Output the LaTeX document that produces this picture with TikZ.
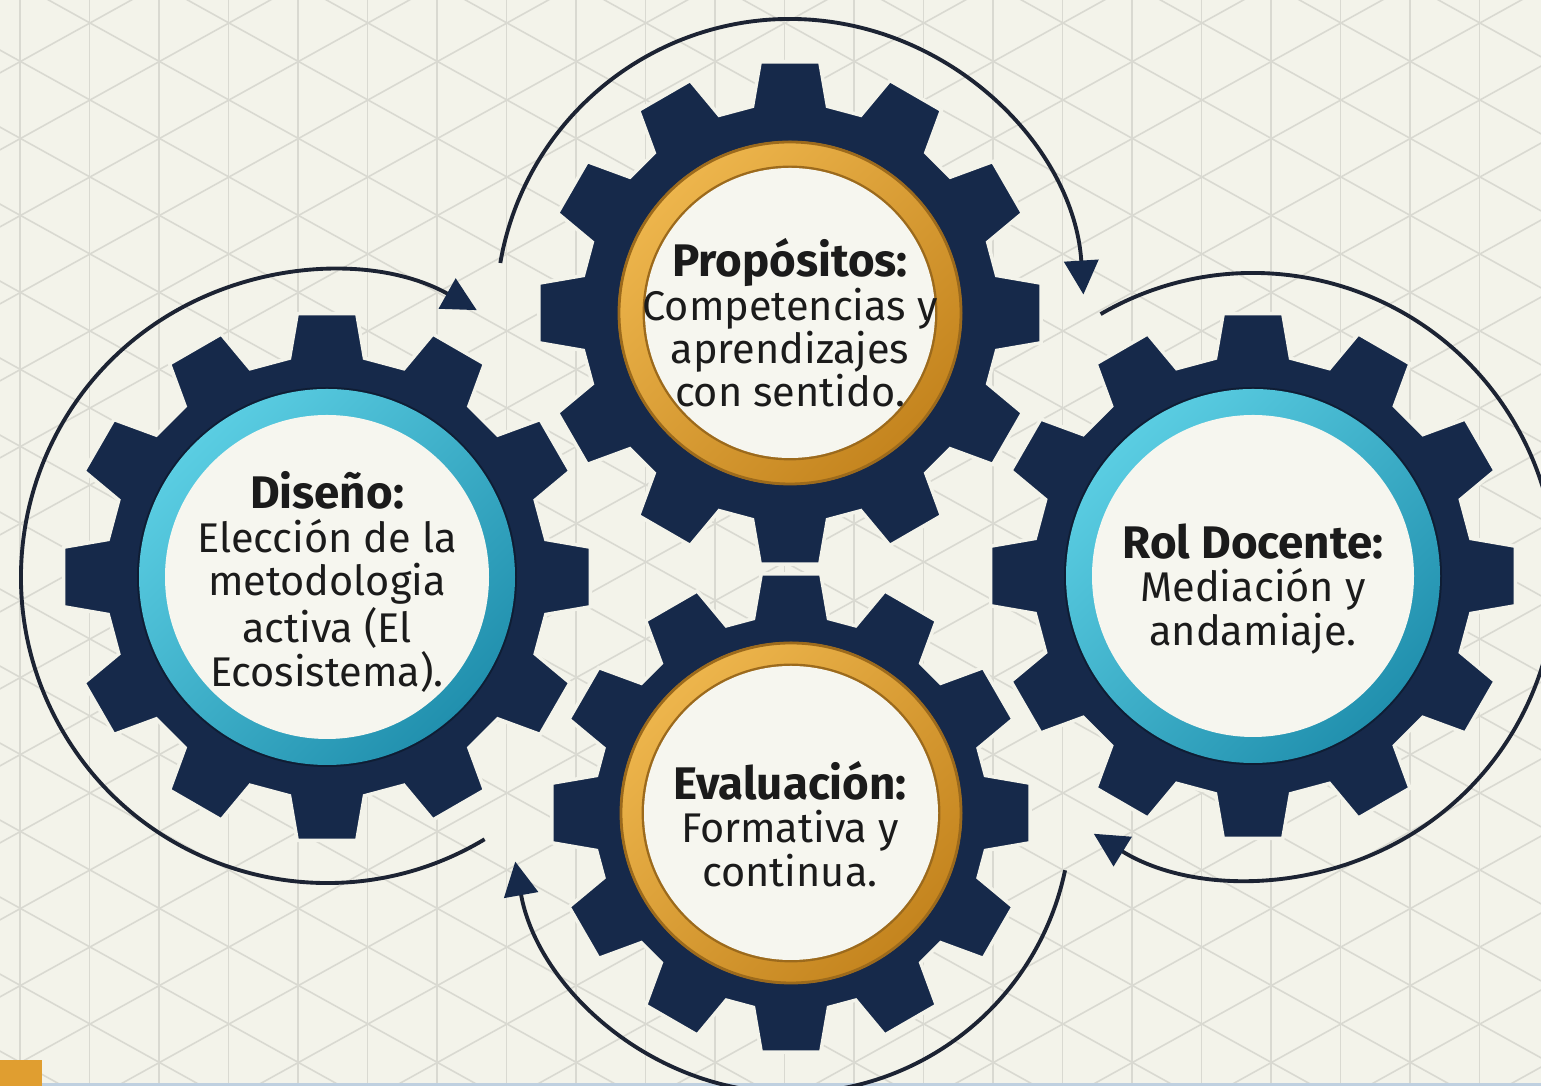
\documentclass[tikz,border=0pt]{standalone}
\usepackage{fontspec}
\setmainfont{Fira Sans}
\usetikzlibrary{arrows.meta}

\definecolor{paper}{HTML}{F3F3EA}
\definecolor{gridc}{HTML}{D9D9D1}
\definecolor{navy}{HTML}{16294A}
\definecolor{tealL}{HTML}{5ACDE2}
\definecolor{tealD}{HTML}{2190AE}
\definecolor{goldL}{HTML}{EDB54C}
\definecolor{goldD}{HTML}{C4841E}
\definecolor{goldE}{HTML}{9C6A1C}
\definecolor{disc}{HTML}{F6F6EF}
\definecolor{ink}{HTML}{1B1B1B}
\definecolor{arcline}{HTML}{1C2333}
\definecolor{orangec}{HTML}{E09E30}
\definecolor{bluebar}{HTML}{BFD0E0}

% gear with 12 teeth: #1 centre, #2 tip radius
\newcommand{\gearbody}[2]{%
  \pgfmathsetmacro\tipang{atan(0.30/#2)}%
  \pgfmathsetmacro\rootang{asin(0.375/(#2-0.43))}%
  \pgfmathsetmacro\rootrad{#2-0.43}%
  \begin{scope}[shift={(#1)}]
    \filldraw[gear] (90-\rootang:\rootrad)
      \foreach \k in {0,...,11} {
        -- (\k*30+90-\rootang:\rootrad) -- (\k*30+90-\tipang:#2)
        -- (\k*30+90+\tipang:#2) -- (\k*30+90+\rootang:\rootrad)
      } -- cycle;
  \end{scope}}
% teal ring: #1 centre, #2 outer radius, #3 inner radius
\newcommand{\tealring}[3]{%
  \fill[navy!70!black] (#1) circle (#2+0.02);
  \shade[top color=tealL, bottom color=tealD, shading angle=45] (#1) circle (#2);
  \fill[disc] (#1) circle (#3);}
% gold ring: #1 centre, #2 outer radius, #3 inner radius
\newcommand{\goldring}[3]{%
  \shade[top color=goldL, bottom color=goldD, shading angle=45] (#1) circle (#2);
  \draw[goldE, line width=0.8pt] (#1) circle (#2-0.01);
  \draw[goldE, line width=0.8pt] (#1) circle (#3+0.01);
  \fill[disc] (#1) circle (#3);}
% title line of a label
\newcommand{\gtitle}[1]{{\fontsize{13}{12.3}\selectfont\bfseries #1}}

\begin{document}
\begin{tikzpicture}[
    gridline/.style={gridc, line width=0.45pt},
    gear/.style={fill=navy, draw=paper, line width=1pt, line join=miter},
    gtext/.style={align=center, text=ink, inner sep=0pt,
      font=\fontsize{11.8}{12.3}\selectfont},
    flow/.style={draw=arcline, line width=1.1pt,
      -{Triangle[length=3.4mm, width=3.4mm, color=navy]}}
  ]
  \useasboundingbox (0,0) rectangle (15.41,10.86);
  \clip (0,0) rectangle (15.41,10.86);
  \fill[paper] (0,0) rectangle (15.41,10.86);

  % isometric grid
  \foreach \k in {0,...,21}
    \draw[gridline] (0.20+0.695*\k,0) -- (0.20+0.695*\k,10.86);
  \foreach \m in {-12,...,26} {
    \draw[gridline] (-0.5,10.63-0.77*\m+0.554*1.4) -- (16,10.63-0.77*\m-0.554*15.1);
    \draw[gridline] (-0.5,10.63-0.77*\m-0.554*1.4) -- (16,10.63-0.77*\m+0.554*15.1);
  }

  % bottom strip
  \fill[bluebar] (0,0) rectangle (15.41,0.03);
  \fill[orangec] (0,0) rectangle (0.42,0.26);

  % gear centres
  \coordinate (gL) at (3.27,5.09);
  \coordinate (gT) at (7.90,7.73);
  \coordinate (gR) at (12.53,5.10);
  \coordinate (gB) at (7.91,2.73);

  % gears
  \gearbody{gL}{2.65} \tealring{gL}{1.88}{1.62}
  \gearbody{gR}{2.64} \tealring{gR}{1.87}{1.61}
  \gearbody{gT}{2.53} \goldring{gT}{1.72}{1.45}
  \gearbody{gB}{2.41} \goldring{gB}{1.71}{1.47}

  % labels
  \node[gtext] (txL) at (3.27,5.04) {\gtitle{Diseño:}\\Elección de la\\metodologia\\activa (El\\Ecosistema).};
  \node[gtext] (txT) at (7.90,7.63) {\gtitle{Propósitos:}\\Competencias y\\aprendizajes\\con sentido.};
  \node[gtext] (txR) at (12.53,4.97) {\gtitle{Rol Docente:}\\Mediación y\\andamiaje.};
  \node[gtext] (txB) at (7.90,2.62) {\gtitle{Evaluación:}\\Formativa y\\continua.};

  % arrow starts
  \path (gL) ++(-59:3.06) coordinate (aL);
  \path (gT) ++(170.2:2.94) coordinate (aT);
  \path (gR) ++(120.2:3.03) coordinate (aR);
  \path (gB) ++(-11.8:2.80) coordinate (aB);

  % cycle arrows
  \draw[flow] (aL) arc[start angle=-59, end angle=-299.3, radius=3.06];
  \draw[flow] (aT) arc[start angle=170.2, end angle=3.6, radius=2.94];
  \draw[flow] (aR) arc[start angle=120.2, end angle=-121.7, radius=3.03];
  \draw[flow] (aB) arc[start angle=-11.8, end angle=-170, radius=2.80];
\end{tikzpicture}
\end{document}
